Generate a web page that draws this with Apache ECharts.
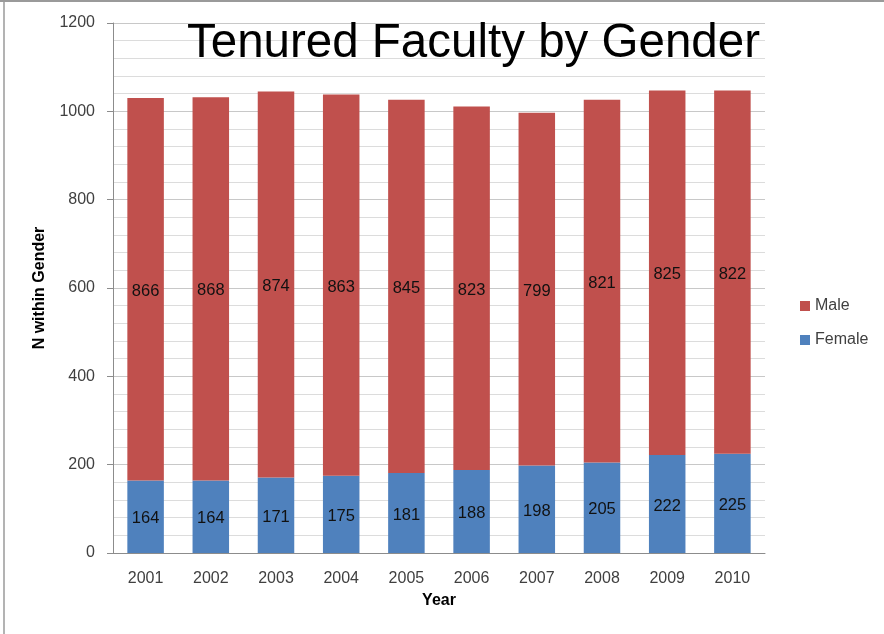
<!DOCTYPE html>
<html>
<head>
<meta charset="utf-8">
<script src="https://cdn.jsdelivr.net/npm/echarts@6/dist/echarts.min.js"></script>
<style>
  html, body { margin: 0; padding: 0; background: #fff; }
  #chart { width: 884px; height: 634px; }
</style>
</head>
<body>
<div id="chart"></div>
<script>
var years = ["2001", "2002", "2003", "2004", "2005", "2006", "2007", "2008", "2009", "2010"];
var female = [164, 164, 171, 175, 181, 188, 198, 205, 222, 225];
var male = [866, 868, 874, 863, 845, 823, 799, 821, 825, 822];
var yTicks = [0, 200, 400, 600, 800, 1000, 1200];

var labelFont = "Liberation Sans";

var chart = echarts.init(document.getElementById("chart"));
var option = {
  backgroundColor: "#fff",
  animation: false,
  title: {
    text: "Tenured Faculty by Gender",
    left: 182,
    top: 15,
    textStyle: { fontFamily: labelFont, fontSize: 47.5, fontWeight: "normal", color: "#000" }
  },
  legend: {
    data: ["Male", "Female"],
    orient: "vertical",
    left: 795,
    top: 293,
    itemWidth: 10,
    itemHeight: 10,
    itemGap: 18,
    icon: "rect",
    textStyle: { fontFamily: labelFont, fontSize: 16, color: "#404040" }
  },
  grid: { left: 113, right: 119, top: 23, bottom: 81 },
  xAxis: {
    type: "category",
    data: years,
    name: "Year",
    nameLocation: "middle",
    nameGap: 40,
    nameTextStyle: { fontFamily: labelFont, fontSize: 16, fontWeight: "bold", color: "#000" },
    axisLine: { lineStyle: { color: "#8c8c8c" } },
    axisTick: { show: false },
    axisLabel: { fontFamily: labelFont, fontSize: 16, color: "#404040", margin: 18 }
  },
  yAxis: {
    type: "value",
    min: 0,
    max: 1200,
    interval: 200,
    name: "N within Gender",
    nameLocation: "middle",
    nameGap: 65,
    nameTextStyle: { fontFamily: labelFont, fontSize: 16, fontWeight: "bold", color: "#000" },
    axisLine: { show: true, lineStyle: { color: "#8c8c8c" } },
    axisTick: { show: true, inside: false, length: 6, lineStyle: { color: "#8c8c8c" } },
    axisLabel: {
      fontFamily: labelFont, fontSize: 16, color: "#404040", margin: 18,
      formatter: function (v) { return yTicks.indexOf(v) >= 0 ? String(v) : ""; }
    },
    splitLine: { show: true, lineStyle: { color: "#c8c8c8" } },
    minorTick: { show: false, splitNumber: 5 },
    minorSplitLine: { show: true, lineStyle: { color: "#dcdcdc" } }
  },
  series: [
    {
      name: "Female",
      type: "bar",
      stack: "total",
      data: female,
      barCategoryGap: "44%",
      itemStyle: { color: "#4f81bd" },
      label: { show: true, position: "inside", offset: [0, 2], fontFamily: labelFont, fontSize: 16.5, color: "#111" }
    },
    {
      name: "Male",
      type: "bar",
      stack: "total",
      data: male,
      barCategoryGap: "44%",
      itemStyle: { color: "#c0504d" },
      label: { show: true, position: "inside", offset: [0, 2], fontFamily: labelFont, fontSize: 16.5, color: "#111" }
    }
  ],
  graphic: [
    { type: "line", shape: { x1: 0, y1: 1, x2: 884, y2: 1 }, style: { stroke: "#9a9a9a", lineWidth: 2 } },
    { type: "line", shape: { x1: 4, y1: 0, x2: 4, y2: 634 }, style: { stroke: "#9a9a9a", lineWidth: 1.5 } }
  ]
};
chart.setOption(option);
window.addEventListener("resize", function () { chart.resize(); });
</script>
</body>
</html>
